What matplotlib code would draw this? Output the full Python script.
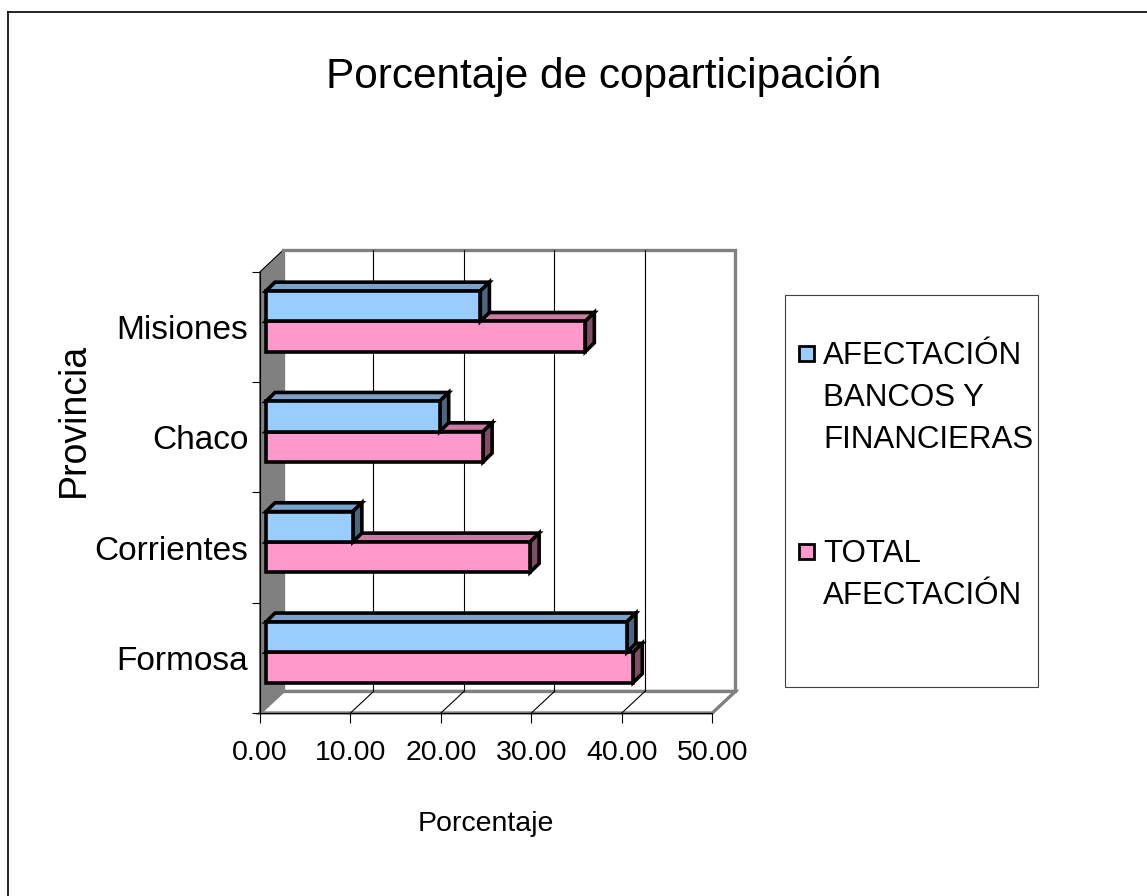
import matplotlib.pyplot as plt
from matplotlib.patches import Polygon, Rectangle
from matplotlib.lines import Line2D
import numpy as np

plt.rcParams['font.family'] = ['Liberation Sans', 'DejaVu Sans']

provincias = ['Formosa', 'Corrientes', 'Chaco', 'Misiones']
series = ['AFECTACIÓN\nBANCOS Y\nFINANCIERAS', 'TOTAL\nAFECTACIÓN']
bancos = [39.9, 9.6, 19.2, 23.7]
total = [40.6, 29.2, 24.0, 35.3]
xticks = [0, 10, 20, 30, 40, 50]

front = ['#99CCFF', '#FF99CC']
top = ['#7AA3CC', '#CC7AA3']
side = ['#4D6680', '#804C66']

W, H = 1147, 896
fig = plt.figure(figsize=(W / 100, H / 100), dpi=100)


def fx(px):
    return px / W


def fy(py):
    return 1 - py / H


# front plane: x=0 at px 260 (9.046 px per unit), y=0 at px 713 (110.3 px per category)
x0, sx = 260, 9.046
y0, sy = 713, 110.3
xmin, xmax = -1, 54
ymin, ymax = -0.1, 4.3
ax = fig.add_axes([fx(x0 + xmin * sx), fy(y0 - ymin * sy),
                   (xmax - xmin) * sx / W, (ymax - ymin) * sy / H])
ax.set_xlim(xmin, xmax)
ax.set_ylim(ymin, ymax)
ax.patch.set_visible(False)

n = len(provincias)
xend = xticks[-1]
dx, dy = 2.54, 0.195          # wall depth
bx, by = 0.66, 0.051          # bar offset from front plane
bdx, bdy = 1.0, 0.08          # bar depth
h = 0.275

# walls and floor
ax.add_patch(Polygon([(0, 0), (dx, dy), (dx, n + dy), (0, n)], closed=True,
                     fc='#808080', ec='black', lw=0.8, zorder=1))
ax.add_patch(Rectangle((dx, dy), xend, n, fc='white', ec='#808080', lw=2.4, zorder=1))
ax.add_patch(Polygon([(0, 0), (xend, 0), (xend + dx, dy), (dx, dy)], closed=True,
                     fc='white', ec='#808080', lw=2.4, zorder=1))
for v in xticks[1:-1]:
    ax.plot([v + dx, v + dx], [dy, n + dy], color='black', lw=0.8, zorder=2)
    ax.plot([v, v + dx], [0, dy], color='black', lw=0.8, zorder=2)

# bars (front faces through barh, top/side faces as polygons)
yc = np.arange(n) + 0.5 + by
for k, (vals, ypos) in enumerate([(bancos, yc + h / 2), (total, yc - h / 2)]):
    z = 5 if k == 0 else 3
    ax.barh(ypos, vals, height=h, left=bx, color=front[k], edgecolor='black',
            lw=2.6, zorder=z + 1)
    for v, yy in zip(vals, ypos):
        yb, yt = yy - h / 2, yy + h / 2
        ax.add_patch(Polygon([(bx, yt), (bx + v, yt), (bx + v + bdx, yt + bdy), (bx + bdx, yt + bdy)],
                             closed=True, fc=top[k], ec='black', lw=2.6, joinstyle='miter', zorder=z))
        ax.add_patch(Polygon([(bx + v, yb), (bx + v + bdx, yb + bdy), (bx + v + bdx, yt + bdy), (bx + v, yt)],
                             closed=True, fc=side[k], ec='black', lw=2.6, joinstyle='miter', zorder=z))

# axes
for s in ['top', 'right']:
    ax.spines[s].set_visible(False)
ax.spines['bottom'].set_position(('data', 0))
ax.spines['bottom'].set_bounds(0, xend)
ax.spines['left'].set_position(('data', 0))
ax.spines['left'].set_bounds(0, n)
for s in ['bottom', 'left']:
    ax.spines[s].set_linewidth(0.8)
    ax.spines[s].set_zorder(2.5)
ax.set_xticks(xticks, labels=[f'{v:.2f}' for v in xticks])
ax.tick_params(axis='x', length=7.5, width=0.8, pad=12, labelsize=20.5)
ax.set_yticks(range(n + 1), labels=[''] * (n + 1))
ax.set_yticks(np.arange(n) + 0.5, labels=provincias, minor=True)
ax.tick_params(axis='y', which='major', length=6, width=0.8)
ax.tick_params(axis='y', which='minor', length=0, pad=8.5, labelsize=24)

# texts
fig.text(fx(604), fy(88), 'Porcentaje de coparticipación', ha='center', va='baseline', fontsize=30.5)
fig.text(fx(486), fy(831), 'Porcentaje', ha='center', va='baseline', fontsize=20.5)
fig.text(fx(74), fy(420), 'Provincia', ha='center', va='center', rotation=90, fontsize=27)

# legend
fig.add_artist(Rectangle((fx(785), fy(687)), (1038 - 785) / W, (687 - 295) / H,
                         transform=fig.transFigure, fc='white', ec='#404040', lw=0.8))
for k, (name, base) in enumerate(zip(series, [364, 562])):
    fig.add_artist(Rectangle((fx(799), fy(base - 3)), 15 / W, 15 / H, transform=fig.transFigure,
                             fc=front[k], ec='black', lw=2))
    for j, line in enumerate(name.split('\n')):
        fig.text(fx(823), fy(base + j * 42), line, ha='left', va='baseline', fontsize=22.5)

# outer border (top and left edges)
fig.add_artist(Line2D([fx(8), fx(8)], [fy(12), 0], transform=fig.transFigure, color='black', lw=1.2))
fig.add_artist(Line2D([fx(8), 1], [fy(12), fy(12)], transform=fig.transFigure, color='black', lw=1.2))

fig.savefig('out.png', dpi=100)
